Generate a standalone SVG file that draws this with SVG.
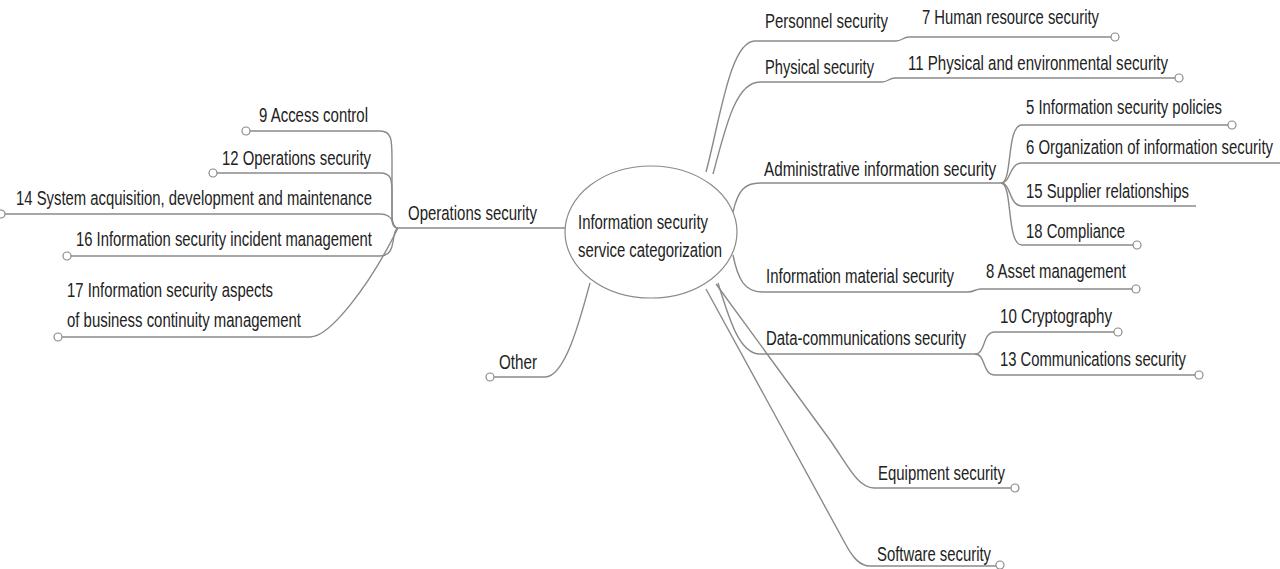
<svg xmlns="http://www.w3.org/2000/svg" width="1280" height="569" viewBox="0 0 1280 569">
<style>
text{font-family:"Liberation Sans",Arial,sans-serif;font-size:20.5px;fill:#222}
.c{fill:none;stroke:#8a8a8a;stroke-width:1.4}
.d{fill:#fff;stroke:#8a8a8a;stroke-width:1.2}
</style>
<rect width="1280" height="569" fill="#fff"/>
<g id="connectors">
<path class="c" d="M250,131 H380 C392,131 392,140 392,160 V215 C392,225 394,228 398,228"/>
<path class="c" d="M217,173 H380 C392,173 392,180 392,195 V218 C392,225 394,228 398,228"/>
<path class="c" d="M5,214 H380 C390,214 392,220 393,223 C394,226 396,228 398,228"/>
<path class="c" d="M71,256 H380 C390,256 392,248 393,242 C394,234 396,228 398,228"/>
<path class="c" d="M62,337 H310 C330,337 370,285 398,228"/>
<path class="c" d="M398,228 H566"/>
<path class="c" d="M494,377 H545 C565,377 580,320 590,283"/>
<path class="c" d="M706,172 C720,120 730,41 755,41 H896 C902,41 903,37 909,37 H1111"/>
<path class="c" d="M713,174 C725,130 735,82 760,82 H882 C888,82 889,78 895,78 H1175"/>
<path class="c" d="M733,212 C738,190 745,183 760,183 H1001"/>
<path class="c" d="M1001,183 C1013,183 1006,125 1022,125 H1228"/>
<path class="c" d="M1001,183 C1011,183 1009,163 1022,163 H1280"/>
<path class="c" d="M1001,183 C1011,183 1009,206 1022,206 H1196"/>
<path class="c" d="M1001,183 C1013,183 1006,245 1022,245 H1133"/>
<path class="c" d="M733,255 C738,280 745,292 762,292 H968 C974,292 975,289 981,289 H1132"/>
<path class="c" d="M718,283 C730,322 740,354 760,354 H975"/>
<path class="c" d="M975,354 C986,354 982,332 995,332 H1114"/>
<path class="c" d="M975,354 C986,354 982,375 995,375 H1195"/>
<path class="c" d="M716,284 L830,440 C848,466 858,488 874,488 H1011"/>
<path class="c" d="M706,289 L846,545 C853,558 860,566 870,566 H996"/>
</g>
<g id="root">
<ellipse class="d" cx="651" cy="232" rx="86" ry="66"/>
<text x="578" y="229" textLength="130" lengthAdjust="spacingAndGlyphs">Information security</text>
<text x="578" y="257" textLength="144" lengthAdjust="spacingAndGlyphs">service categorization</text>
</g>
<g id="ops"><text x="408" y="220" textLength="129" lengthAdjust="spacingAndGlyphs">Operations security</text></g>
<g id="n9"><circle class="d" cx="246" cy="131" r="4"/><text x="259" y="122" textLength="109" lengthAdjust="spacingAndGlyphs">9 Access control</text></g>
<g id="n12"><circle class="d" cx="213" cy="173" r="4"/><text x="222" y="165" textLength="149" lengthAdjust="spacingAndGlyphs">12 Operations security</text></g>
<g id="n14"><circle class="d" cx="1" cy="214" r="4"/><text x="16" y="205" textLength="356" lengthAdjust="spacingAndGlyphs">14 System acquisition, development and maintenance</text></g>
<g id="n16"><circle class="d" cx="67" cy="256" r="4"/><text x="76" y="246" textLength="296" lengthAdjust="spacingAndGlyphs">16 Information security incident management</text></g>
<g id="n17"><circle class="d" cx="58" cy="337" r="4"/><text x="67" y="297" textLength="206" lengthAdjust="spacingAndGlyphs">17 Information security aspects</text><text x="67" y="327" textLength="234" lengthAdjust="spacingAndGlyphs">of business continuity management</text></g>
<g id="other"><circle class="d" cx="490" cy="377" r="4"/><text x="499" y="369" textLength="38" lengthAdjust="spacingAndGlyphs">Other</text></g>
<g id="personnel"><text x="765" y="28" textLength="123" lengthAdjust="spacingAndGlyphs">Personnel security</text></g>
<g id="n7"><circle class="d" cx="1115" cy="37" r="4"/><text x="922" y="24" textLength="177" lengthAdjust="spacingAndGlyphs">7 Human resource security</text></g>
<g id="physical"><text x="765" y="74" textLength="109" lengthAdjust="spacingAndGlyphs">Physical security</text></g>
<g id="n11"><circle class="d" cx="1179" cy="78" r="4"/><text x="908" y="70" textLength="260" lengthAdjust="spacingAndGlyphs">11 Physical and environmental security</text></g>
<g id="admin"><text x="764" y="176" textLength="232" lengthAdjust="spacingAndGlyphs">Administrative information security</text></g>
<g id="n5"><circle class="d" cx="1232" cy="125" r="4"/><text x="1026" y="114" textLength="196" lengthAdjust="spacingAndGlyphs">5 Information security policies</text></g>
<g id="n6"><text x="1026" y="154" textLength="247" lengthAdjust="spacingAndGlyphs">6 Organization of information security</text></g>
<g id="n15"><text x="1026" y="198" textLength="163" lengthAdjust="spacingAndGlyphs">15 Supplier relationships</text></g>
<g id="n18"><circle class="d" cx="1137" cy="245" r="4"/><text x="1026" y="238" textLength="99" lengthAdjust="spacingAndGlyphs">18 Compliance</text></g>
<g id="material"><text x="766" y="283" textLength="188" lengthAdjust="spacingAndGlyphs">Information material security</text></g>
<g id="n8"><circle class="d" cx="1136" cy="289" r="4"/><text x="986" y="278" textLength="140" lengthAdjust="spacingAndGlyphs">8 Asset management</text></g>
<g id="datacomm"><text x="766" y="345" textLength="200" lengthAdjust="spacingAndGlyphs">Data-communications security</text></g>
<g id="n10"><circle class="d" cx="1118" cy="332" r="4"/><text x="1000" y="323" textLength="112" lengthAdjust="spacingAndGlyphs">10 Cryptography</text></g>
<g id="n13"><circle class="d" cx="1199" cy="375" r="4"/><text x="1000" y="366" textLength="186" lengthAdjust="spacingAndGlyphs">13 Communications security</text></g>
<g id="equipment"><circle class="d" cx="1015" cy="488" r="4"/><text x="878" y="480" textLength="127" lengthAdjust="spacingAndGlyphs">Equipment security</text></g>
<g id="software"><circle class="d" cx="1000" cy="565" r="4"/><text x="877" y="561" textLength="114" lengthAdjust="spacingAndGlyphs">Software security</text></g>
</svg>
